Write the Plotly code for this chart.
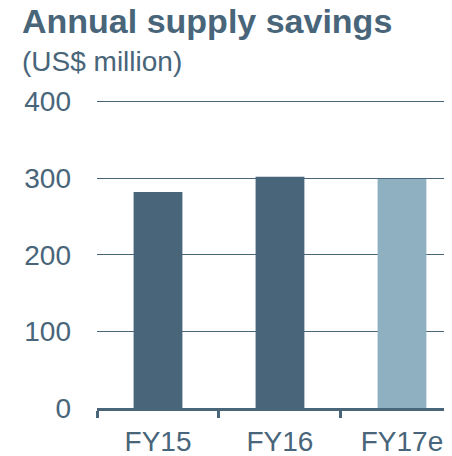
import plotly.graph_objects as go

years = ["FY15", "FY16", "FY17e"]
savings = [282, 302, 299]
bar_colors = ["#48657a", "#48657a", "#8fb0c1"]

ink = "#48657a"
font = "Liberation Sans, Arial, sans-serif"

# the page body adds an 8px margin, so the figure is sized to the visible area
fig = go.Figure(
    go.Bar(
        x=years,
        y=savings,
        width=0.4,
        marker=dict(color=bar_colors, line=dict(width=0)),
    )
)

fig.update_xaxes(
    range=[-0.5, 2.41],
    automargin=False,
    showgrid=False,
    showline=True,
    linecolor=ink,
    linewidth=3,
    ticks="outside",
    tickson="boundaries",
    ticklen=7,
    tickwidth=3,
    tickcolor=ink,
    tickfont=dict(size=28, color=ink, family=font),
    ticklabelstandoff=6,
)
fig.update_yaxes(
    range=[0, 410],
    automargin=False,
    tickvals=[0, 100, 200, 300, 400],
    showgrid=True,
    gridcolor=ink,
    gridwidth=1,
    zeroline=False,
    showline=False,
    tickfont=dict(size=28, color=ink, family=font),
    ticklabelstandoff=25,
)

fig.add_annotation(
    text="<b>Annual supply savings</b>",
    xref="paper", yref="paper", x=-0.217, y=1.0,
    xanchor="left", yanchor="bottom", yshift=52,
    showarrow=False,
    font=dict(size=34, color=ink, family=font),
)
fig.add_annotation(
    text="(US$ million)",
    xref="paper", yref="paper", x=-0.217, y=1.0,
    xanchor="left", yanchor="bottom", yshift=15,
    showarrow=False,
    font=dict(size=28, color=ink, family=font),
)

fig.update_layout(
    width=444,
    height=448,
    margin=dict(l=89, r=0, t=86, b=48),
    plot_bgcolor="white",
    paper_bgcolor="white",
    showlegend=False,
    bargap=0.6,
)

fig.write_html("out.html")
